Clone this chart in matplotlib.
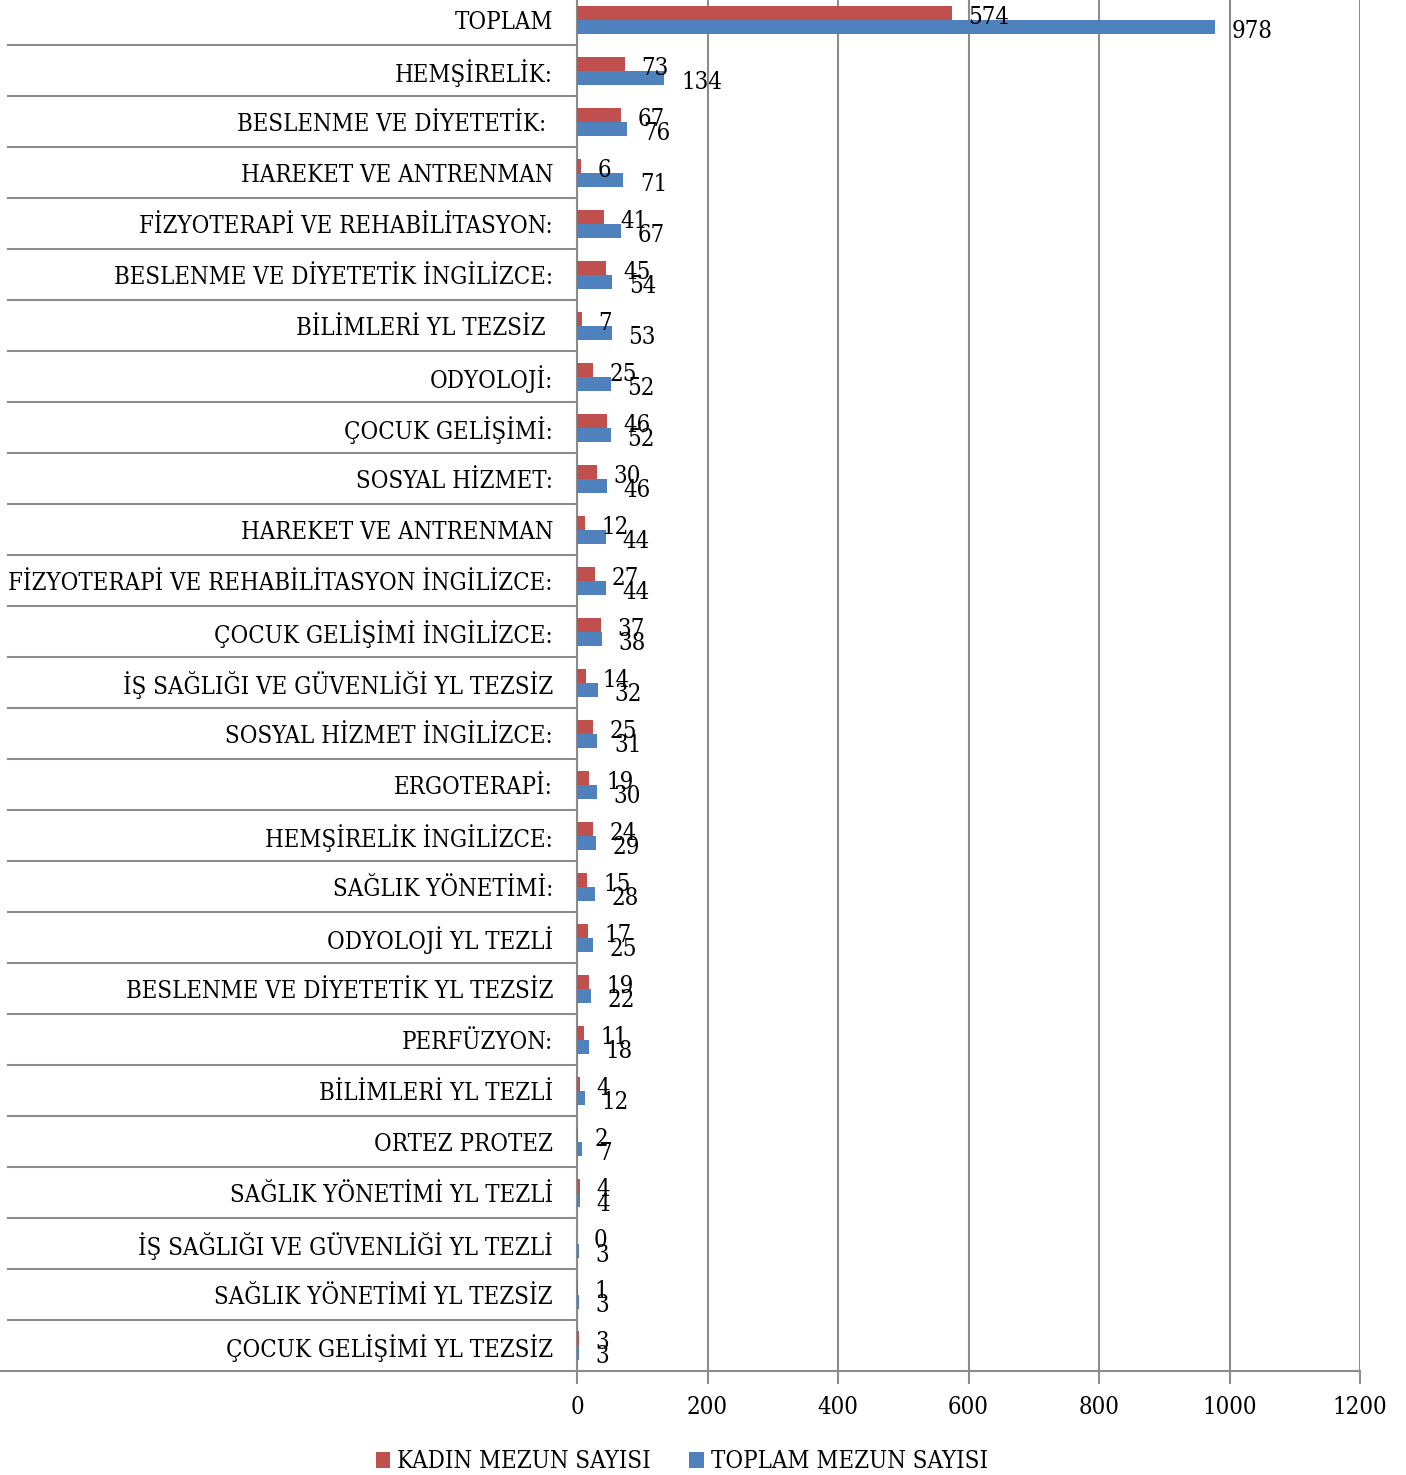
import matplotlib
matplotlib.use("Agg")
import matplotlib.pyplot as plt
import matplotlib.transforms as mtransforms
from matplotlib.patches import Patch
import numpy as np

categories = [
    "TOPLAM", "HEMŞİRELİK:", "BESLENME VE DİYETETİK: ", "HAREKET VE ANTRENMAN",
    "FİZYOTERAPİ VE REHABİLİTASYON:", "BESLENME VE DİYETETİK İNGİLİZCE:",
    "BİLİMLERİ YL TEZSİZ ", "ODYOLOJİ:", "ÇOCUK GELİŞİMİ:", "SOSYAL HİZMET:",
    "HAREKET VE ANTRENMAN", "FİZYOTERAPİ VE REHABİLİTASYON İNGİLİZCE:",
    "ÇOCUK GELİŞİMİ İNGİLİZCE:", "İŞ SAĞLIĞI VE GÜVENLİĞİ YL TEZSİZ",
    "SOSYAL HİZMET İNGİLİZCE:", "ERGOTERAPİ:", "HEMŞİRELİK İNGİLİZCE:",
    "SAĞLIK YÖNETİMİ:", "ODYOLOJİ YL TEZLİ", "BESLENME VE DİYETETİK YL TEZSİZ",
    "PERFÜZYON:", "BİLİMLERİ YL TEZLİ", "ORTEZ PROTEZ", "SAĞLIK YÖNETİMİ YL TEZLİ",
    "İŞ SAĞLIĞI VE GÜVENLİĞİ YL TEZLİ", "SAĞLIK YÖNETİMİ YL TEZSİZ",
    "ÇOCUK GELİŞİMİ YL TEZSİZ",
]
kadin = [574, 73, 67, 6, 41, 45, 7, 25, 46, 30, 12, 27, 37, 14, 25, 19, 24, 15,
         17, 19, 11, 4, 2, 4, 0, 1, 3]
toplam = [978, 134, 76, 71, 67, 54, 53, 52, 52, 46, 44, 44, 38, 32, 31, 30, 29,
          28, 25, 22, 18, 12, 7, 4, 3, 3, 3]
xticks = [0, 200, 400, 600, 800, 1000, 1200]
series_names = ["KADIN MEZUN SAYISI", "TOPLAM MEZUN SAYISI"]

RED = "#C0504D"
BLUE = "#4F81BD"
GRID = "#8C8C8C"
FONT = dict(family="DejaVu Serif", stretch="condensed")
FS = 17.2

W, H = 1406, 1475
fig = plt.figure(figsize=(W / 100, H / 100), dpi=100)
ax_left, ax_right = 577 / W, 1360 / W
ax_bottom = (H - 1371) / H
ax_top = (H + 5.5) / H
ax = fig.add_axes([ax_left, ax_bottom, ax_right - ax_left, ax_top - ax_bottom])

n = len(categories)
y = np.arange(n)
bh = 0.275
ax.barh(y - bh / 2, kadin, height=bh, color=RED, zorder=3)
ax.barh(y + bh / 2, toplam, height=bh, color=BLUE, zorder=3)

ax.set_ylim(n - 0.5, -0.5)
ax.set_xlim(0, 1200)
ax.set_xticks(xticks)
ax.set_xticklabels([str(t) for t in xticks], fontsize=FS, **FONT)
ax.set_yticks([])
ax.tick_params(axis="x", direction="out", length=9, width=1.5, color=GRID, pad=9)
ax.grid(axis="x", color=GRID, linewidth=1.5, zorder=0)
for s in ["top", "right"]:
    ax.spines[s].set_visible(False)
ax.spines["left"].set_color(GRID)
ax.spines["left"].set_linewidth(1.5)
ax.spines["bottom"].set_visible(False)

# data labels
for i in range(n):
    ax.annotate(str(kadin[i]), (kadin[i], y[i] - bh / 2), xytext=(12, -3.2),
                textcoords="offset points", va="center", ha="left",
                fontsize=FS, zorder=4, **FONT)
    ax.annotate(str(toplam[i]), (toplam[i], y[i] + bh / 2), xytext=(12, -3.2),
                textcoords="offset points", va="center", ha="left",
                fontsize=FS, zorder=4, **FONT)

# category labels and separators
trans = mtransforms.blended_transform_factory(fig.transFigure, ax.transData)
lab_trans = trans + mtransforms.ScaledTranslation(0, -2.5 / 100, fig.dpi_scale_trans)
label_x = 553 / W
for i, c in enumerate(categories):
    fig.text(label_x, 0, c, transform=lab_trans, ha="right", va="center",
             fontsize=FS, **FONT).set_y(i)
for i in range(n - 1):
    ax.plot([8 / W, ax_left], [i + 0.5, i + 0.5], transform=trans, color=GRID,
            linewidth=1.5, clip_on=False, zorder=1)
# bottom axis line
ax.plot([0, ax_right], [n - 0.5, n - 0.5], transform=trans, color=GRID,
        linewidth=1.5, clip_on=False, zorder=2)

handles = [Patch(facecolor=RED), Patch(facecolor=BLUE)]
fig.legend(handles, series_names, loc="center", bbox_to_anchor=(682 / W, (H - 1462) / H),
           ncol=2, frameon=False, prop=dict(size=FS, **FONT),
           handlelength=0.6, handleheight=0.6, handletextpad=0.3, columnspacing=1.6)

fig.savefig("out.png", dpi=100)
